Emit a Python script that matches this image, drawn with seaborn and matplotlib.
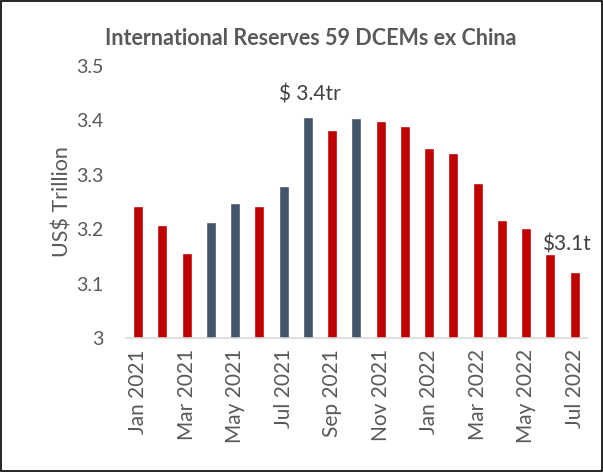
import matplotlib
matplotlib.use("Agg")
import matplotlib.pyplot as plt
import seaborn as sns
import pandas as pd
from matplotlib.patches import Rectangle

months = ["Jan 2021", "Feb 2021", "Mar 2021", "Apr 2021", "May 2021", "Jun 2021",
          "Jul 2021", "Aug 2021", "Sep 2021", "Oct 2021", "Nov 2021", "Dec 2021",
          "Jan 2022", "Feb 2022", "Mar 2022", "Apr 2022", "May 2022", "Jun 2022",
          "Jul 2022"]
reserves = [3.242, 3.208, 3.157, 3.214, 3.249, 3.242, 3.279, 3.406, 3.382, 3.404,
            3.399, 3.389, 3.349, 3.341, 3.285, 3.217, 3.203, 3.154, 3.122]
direction = ["down", "down", "down", "up", "up", "down", "up", "up", "down", "up",
             "down", "down", "down", "down", "down", "down", "down", "down", "down"]
palette = {"down": "#C00000", "up": "#44546A"}

df = pd.DataFrame({"month": months, "value": reserves, "dir": direction})

sns.set_theme(style="white")
plt.rcParams['font.family'] = ['Lato', 'DejaVu Sans']

fig = plt.figure(figsize=(6.03, 4.72), dpi=100)
ax = fig.add_axes([0.209, 0.284, 0.764, 0.576])
sns.barplot(data=df, x="month", y="value", hue="dir", palette=palette,
            dodge=False, width=0.42, legend=False, saturation=1, ax=ax)

ax.set_ylim(3.0, 3.5)
ax.set_xlim(-0.5, len(months) - 0.5)
ax.set_yticks([3.0, 3.1, 3.2, 3.3, 3.4, 3.5])
ax.set_yticklabels(["3", "3.1", "3.2", "3.3", "3.4", "3.5"])
ax.set_xticks(range(0, len(months), 2))
ax.set_xticklabels(months[::2], rotation=90)
ax.tick_params(axis="both", colors="#595959", length=0)
ax.tick_params(axis="x", labelsize=15, pad=8)
ax.tick_params(axis="y", labelsize=14, pad=16.5)
for s in ["top", "right", "left"]:
    ax.spines[s].set_visible(False)
ax.spines["bottom"].set_color("#D9D9D9")
ax.spines["bottom"].set_linewidth(1.2)
ax.set_xlabel("")
ax.set_ylabel("US$ Trillion", color="#595959", fontsize=15.5, labelpad=2)

ax.text(7.1, 3.448, "$ 3.4tr", ha="center", va="center", fontsize=15, color="#404040")
ax.text(16.65, 3.172, "$3.1t", ha="left", va="center", fontsize=15, color="#404040")

fig.text(0.515, 0.918, "International Reserves 59 DCEMs ex China", ha="center",
         va="center", fontsize=15.5, fontweight="bold", color="#595959")

fig.patches.append(Rectangle((0.002, 0.002), 0.996, 0.996, transform=fig.transFigure,
                             fill=False, edgecolor="black", linewidth=1.2))

fig.savefig("out.png", dpi=100)
